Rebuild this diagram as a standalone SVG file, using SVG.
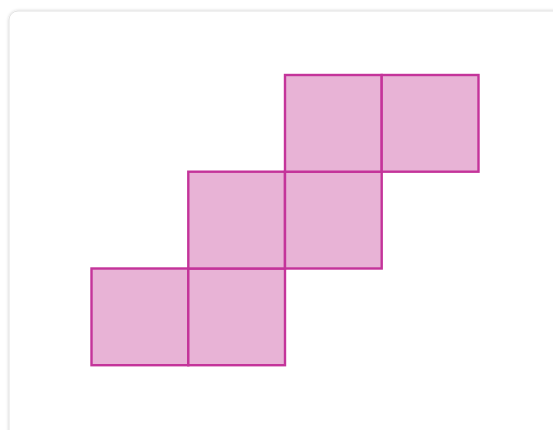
<svg xmlns="http://www.w3.org/2000/svg" width="553" height="430" viewBox="0 0 553 430">
  <defs>
    <filter id="sh" x="-5%" y="-5%" width="110%" height="110%">
      <feDropShadow dx="0" dy="0" stdDeviation="1.5" flood-color="#000" flood-opacity="0.18"/>
    </filter>
  </defs>
  <style>
    .sq { fill: #e8b3d6; stroke: #c4349a; stroke-width: 2.4; }
  </style>
  <rect x="0" y="0" width="553" height="430" fill="#ffffff"/>
  <rect id="card" x="9" y="11" width="570" height="450" rx="9" fill="#ffffff" stroke="#e2e2e2" stroke-width="1" filter="url(#sh)"/>
  <g id="squares">
    <g id="sq1"><rect class="sq" x="91.5" y="268.5" width="96.8" height="96.7"/></g>
    <g id="sq2"><rect class="sq" x="188.3" y="268.5" width="96.7" height="96.7"/></g>
    <g id="sq3"><rect class="sq" x="188.3" y="171.7" width="96.7" height="96.8"/></g>
    <g id="sq4"><rect class="sq" x="285" y="171.7" width="96.7" height="96.8"/></g>
    <g id="sq5"><rect class="sq" x="285" y="75" width="96.7" height="96.7"/></g>
    <g id="sq6"><rect class="sq" x="381.7" y="75" width="96.8" height="96.7"/></g>
  </g>
  <g id="connectors"></g>
</svg>
